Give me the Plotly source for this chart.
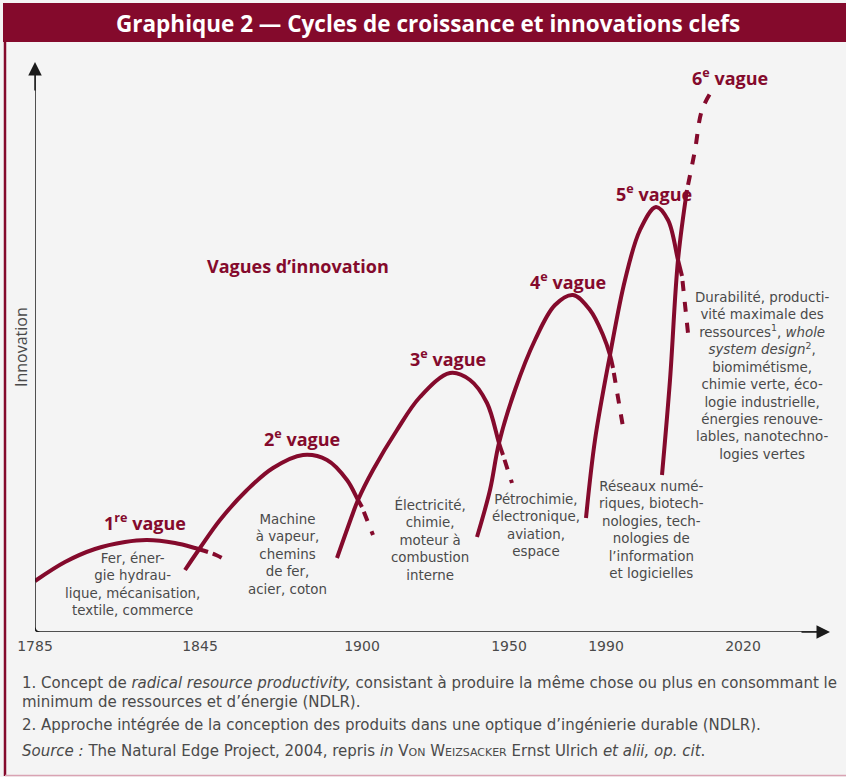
import plotly.graph_objects as go

W, H = 846, 777
RED = "#840A2C"
GREY = "#4A4A4A"
FONT = "Open Sans"
BODY = "DejaVu Sans"

# ---- data (x: position along the time axis, y: innovation level) ----
tick_years = ["1785", "1845", "1900", "1950", "1990", "2020"]
tick_pos = [0, 165, 327, 474, 571, 708]

wave1_x = [0, 30, 60, 90, 112, 140, 160, 173]
wave1_y = [51, 70, 83, 90, 92, 89, 84, 80]
wave1_dash_x = [173, 181, 189]
wave1_dash_y = [80, 77, 73]

wave2_x = [150, 165, 185, 212, 238, 268, 292, 312, 323, 327]
wave2_y = [62, 84, 112, 142, 164, 177, 172, 152, 132, 125]
wave2_dash_x = [327, 338]
wave2_dash_y = [125, 97]

wave3_x = [302, 318, 323, 338, 362, 385, 415, 435, 452, 464, 468]
wave3_y = [74, 119, 132, 162, 202, 235, 259, 252, 229, 189, 177]
wave3_dash_x = [468, 477]
wave3_dash_y = [177, 149]

wave4_x = [442, 455, 464, 480, 500, 520, 538, 555, 568, 575, 578]
wave4_y = [95, 142, 189, 242, 292, 327, 337, 322, 297, 277, 264]
wave4_dash_x = [578, 588]
wave4_dash_y = [264, 205]

wave5_x = [551, 560, 575, 590, 605, 621, 633, 643, 647]
wave5_y = [114, 192, 277, 352, 402, 425, 412, 372, 356]
wave5_dash_x = [647, 653]
wave5_dash_y = [356, 299]

wave6_x = [627, 635, 643, 652]
wave6_y = [157, 252, 372, 442]
wave6_dash_x = [652, 660, 667, 678]
wave6_dash_y = [442, 482, 522, 543]

wave_labels = ["1<sup>re</sup> vague", "2<sup>e</sup> vague", "3<sup>e</sup> vague",
               "4<sup>e</sup> vague", "5<sup>e</sup> vague", "6<sup>e</sup> vague"]
wave_descriptions = [
    "Fer, éner-<br>gie hydrau-<br>lique, mécanisation,<br>textile, commerce",
    "Machine<br>à vapeur,<br>chemins<br>de fer,<br>acier, coton",
    "Électricité,<br>chimie,<br>moteur à<br>combustion<br>interne",
    "Pétrochimie,<br>électronique,<br>aviation,<br>espace",
    "Réseaux numé-<br>riques, biotech-<br>nologies, tech-<br>nologies de<br>l’information<br>et logicielles",
    "Durabilité, producti-<br>vité maximale des<br>ressources<sup>1</sup>, <i>whole</i><br><i>system design</i><sup>2</sup>,<br>biomimétisme,<br>chimie verte, éco-<br>logie industrielle,<br>énergies renouve-<br>lables, nanotechno-<br>logies vertes",
]

# ---- layout geometry (pixels) ----
X0, X1 = 35, 830      # axis origin / x arrow tip
Y0, Y1 = 632, 62      # axis origin / y arrow tip
XR = X1 - X0
YR = Y0 - Y1


def dx(px):
    return px - X0


def dy(py):
    return Y0 - py


fig = go.Figure()

waves = [
    (wave1_x, wave1_y, wave1_dash_x, wave1_dash_y),
    (wave2_x, wave2_y, wave2_dash_x, wave2_dash_y),
    (wave3_x, wave3_y, wave3_dash_x, wave3_dash_y),
    (wave4_x, wave4_y, wave4_dash_x, wave4_dash_y),
    (wave5_x, wave5_y, wave5_dash_x, wave5_dash_y),
    (wave6_x, wave6_y, wave6_dash_x, wave6_dash_y),
]
for sx, sy, ddx, ddy in waves:
    fig.add_trace(go.Scatter(x=sx, y=sy, mode="lines",
                             line=dict(color=RED, width=4, shape="spline", smoothing=1.0),
                             hoverinfo="skip", showlegend=False))
    fig.add_trace(go.Scatter(x=ddx, y=ddy, mode="lines",
                             line=dict(color=RED, width=4, dash="0px,5px,10px,6px", shape="spline"),
                             hoverinfo="skip", showlegend=False))

annotations = []

label_pos = [(145, 522), (302, 438), (448, 358), (568, 281), (654, 193), (730, 77)]
for txt, (px, py) in zip(wave_labels, label_pos):
    annotations.append(dict(x=dx(px), y=dy(py), xref="x", yref="y", text=txt, showarrow=False,
                            font=dict(family=FONT, size=18, color=RED, weight="bold"),
                            xanchor="center", yanchor="middle"))

desc_pos = [(132, 584), (287, 554), (430, 539), (536, 525), (651, 530), (762, 376)]
for txt, (px, py) in zip(wave_descriptions, desc_pos):
    annotations.append(dict(x=dx(px), y=dy(py), xref="x", yref="y", text=txt, showarrow=False,
                            font=dict(family=BODY, size=13.4, color=GREY), align="center",
                            xanchor="center", yanchor="middle"))

annotations.append(dict(x=dx(298), y=dy(266), xref="x", yref="y", text="Vagues d’innovation",
                        showarrow=False, font=dict(family=FONT, size=18, color=RED, weight="bold"),
                        xanchor="center", yanchor="middle"))

annotations.append(dict(x=21 / W, y=1 - 347 / H, xref="paper", yref="paper", text="Innovation",
                        textangle=-90, showarrow=False,
                        font=dict(family=FONT, size=16, color=GREY), xanchor="center", yanchor="middle"))

annotations.append(dict(x=XR, y=0, ax=XR - 30, ay=0, xref="x", yref="y", axref="x", ayref="y",
                        text="", showarrow=True, arrowhead=2, arrowsize=1.8, arrowwidth=1.5,
                        arrowcolor="#1a1a1a"))
annotations.append(dict(x=0, y=YR, ax=0, ay=YR - 30, xref="x", yref="y", axref="x", ayref="y",
                        text="", showarrow=True, arrowhead=2, arrowsize=1.8, arrowwidth=1.5,
                        arrowcolor="#1a1a1a"))

annotations.append(dict(x=428 / W, y=1 - 23 / H, xref="paper", yref="paper",
                        text="Graphique 2 — Cycles de croissance et innovations clefs",
                        showarrow=False, font=dict(family=FONT, size=22.5, color="white", weight="bold"),
                        xanchor="center", yanchor="middle"))

sc = "font-size:11px"
notes = [
    (683, "1. Concept de <i>radical resource productivity,</i> consistant à produire la même chose ou plus en consommant le"),
    (702, "minimum de ressources et d’énergie (NDLR)."),
    (725, "2. Approche intégrée de la conception des produits dans une optique d’ingénierie durable (NDLR)."),
    (751, f"<i>Source :</i> The Natural Edge Project, 2004, repris <i>in</i> V<span style='{sc}'>ON</span> "
          f"W<span style='{sc}'>EIZSACKER</span> Ernst Ulrich <i>et alii, op. cit</i>."),
]
for py, txt in notes:
    annotations.append(dict(x=20 / W, y=1 - py / H, xref="paper", yref="paper", text=txt,
                            showarrow=False, font=dict(family=BODY, size=15, color=GREY),
                            xanchor="left", yanchor="middle", align="left"))

shapes = [
    dict(type="rect", xref="paper", yref="paper", x0=3 / W, x1=1, y0=1 - 42 / H, y1=1 - 3 / H,
         fillcolor=RED, line=dict(width=0), layer="below"),
    dict(type="line", xref="paper", yref="paper", x0=5 / W, x1=5 / W, y0=1 - 776 / H, y1=1 - 40 / H,
         line=dict(color=RED, width=2.5)),
    dict(type="line", xref="paper", yref="paper", x0=5 / W, x1=1, y0=1 - 775.5 / H, y1=1 - 775.5 / H,
         line=dict(color="#D9A3B3", width=1.5)),
    dict(type="path", xref="x", yref="y",
         path=f"M 0,{YR - 10} L 0,5 Q 0,0 5,0 L {XR - 10},0",
         line=dict(color="#1a1a1a", width=1.5)),
]

fig.update_layout(
    template="none",
    width=W, height=H, autosize=False,
    margin=dict(l=0, r=0, t=0, b=0, pad=0, autoexpand=False),
    paper_bgcolor="#F4F4F4", plot_bgcolor="rgba(0,0,0,0)",
    showlegend=False,
    xaxis=dict(domain=[X0 / W, X1 / W], range=[0, XR], showgrid=False, zeroline=False,
               showline=False, tickmode="array", tickvals=tick_pos, ticktext=tick_years,
               ticks="", ticklabelstandoff=4, tickfont=dict(family=BODY, size=14, color=GREY),
               fixedrange=True, automargin=False),
    yaxis=dict(domain=[1 - Y0 / H, 1 - Y1 / H], range=[0, YR], visible=False, fixedrange=True,
               automargin=False),
    annotations=annotations,
    shapes=shapes,
)

fig.write_html("out.html", config={"displayModeBar": False},
               post_script="document.body.style.margin='0';document.body.style.overflow='hidden';")
